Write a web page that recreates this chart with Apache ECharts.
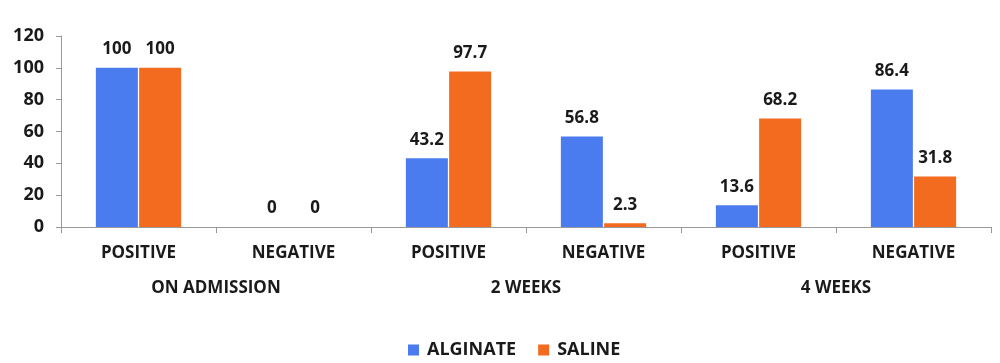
<!DOCTYPE html>
<html><head><meta charset="utf-8">
<script src="https://cdn.jsdelivr.net/npm/echarts@6/dist/echarts.min.js"></script>
<style>html,body{margin:0;padding:0;background:#fff}#c{width:1000px;height:363px}</style>
</head><body><div id="c"></div>
<script>
const categories = ['POSITIVE','NEGATIVE','POSITIVE','NEGATIVE','POSITIVE','NEGATIVE'];
const groups = ['ON ADMISSION','2 WEEKS','4 WEEKS'];
const alginate = [100, 0, 43.2, 56.8, 13.6, 86.4];
const saline = [100, 0, 97.7, 2.3, 68.2, 31.8];
const yTicks = {min: 0, max: 120, interval: 20};

const FONT = '"Open Sans", "Liberation Sans", sans-serif';
const chart = echarts.init(document.getElementById('c'));
const lbl = {show: true, position: 'top', distance: 10, fontFamily: FONT, fontWeight: 'bold', fontSize: 17, color: '#1a1a1a'};
chart.setOption({
  animation: false,
  grid: {left: 61, right: 9, top: 36, bottom: 136, containLabel: false},
  legend: {
    top: 336, left: 403, itemWidth: 11, itemHeight: 11, itemGap: 22, icon: 'rect',
    textStyle: {fontFamily: FONT, fontWeight: 'bold', fontSize: 18, color: '#1a1a1a', padding: [0,0,0,3]},
    data: ['ALGINATE','SALINE']
  },
  xAxis: [{
    type: 'category', data: categories, position: 'bottom',
    axisLine: {lineStyle: {color: '#999'}},
    axisTick: {show: true, interval: 0, length: 6, lineStyle: {color: '#999'}},
    axisLabel: {interval: 0, margin: 18, fontFamily: FONT, fontWeight: 'bold', fontSize: 17, color: '#1a1a1a'}
  }, {
    type: 'category', data: groups, position: 'bottom',
    axisLine: {show: false}, axisTick: {show: false},
    axisLabel: {interval: 0, margin: 53, fontFamily: FONT, fontWeight: 'bold', fontSize: 17, color: '#1a1a1a'}
  }],
  yAxis: {
    type: 'value', min: yTicks.min, max: yTicks.max, interval: yTicks.interval,
    splitLine: {show: false},
    axisLine: {show: true, lineStyle: {color: '#999'}},
    axisTick: {show: true, length: 5, lineStyle: {color: '#999'}},
    axisLabel: {margin: 17, fontFamily: FONT, fontWeight: 'bold', fontSize: 18, color: '#1a1a1a'}
  },
  series: [
    {name: 'ALGINATE', type: 'bar', data: alginate, barWidth: 42, barGap: '3%',
     itemStyle: {color: '#4A7BEF'}, label: lbl},
    {name: 'SALINE', type: 'bar', data: saline, barWidth: 42,
     itemStyle: {color: '#F26B1F'}, label: lbl}
  ]
});
</script></body></html>
